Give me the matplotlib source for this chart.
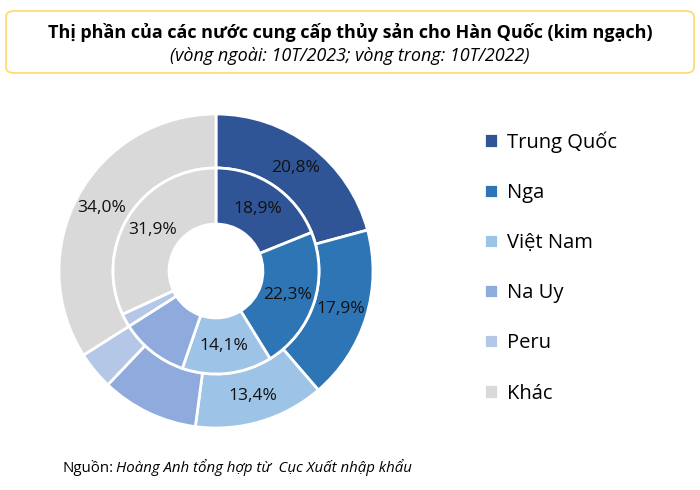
import matplotlib
matplotlib.use("Agg")
import matplotlib.pyplot as plt
import numpy as np
from matplotlib.patches import FancyBboxPatch

plt.rcParams['font.family'] = ['Open Sans', 'DejaVu Sans']

countries = ["Trung Quốc", "Nga", "Việt Nam", "Na Uy", "Peru", "Khác"]
share_2023 = [20.8, 17.9, 13.4, 10.0, 3.9, 34.0]   # outer ring
share_2022 = [18.9, 22.3, 14.1, 10.7, 2.1, 31.9]   # inner ring
show_label = [True, True, True, False, False, True]
colors = ["#2F5597", "#2E75B6", "#9DC3E6", "#8FAADC", "#B4C7E7", "#D9D9D9"]


def fmt(values):
    return [f"{v:.1f}%".replace(".", ",") if s else "" for v, s in zip(values, show_label)]


fig = plt.figure(figsize=(7, 4.9), dpi=100)

# title box
box = FancyBboxPatch((6 / 700, 1 - 73 / 490), 688 / 700, 62 / 490,
                     boxstyle="round,pad=0,rounding_size=0.012",
                     transform=fig.transFigure, facecolor="white",
                     edgecolor="#FFD966", linewidth=1.2)
fig.patches.append(box)
fig.text(0.5, 1 - 32 / 490, "Thị phần của các nước cung cấp thủy sản cho Hàn Quốc (kim ngạch)",
         ha="center", va="center", fontsize=13, fontweight="bold")
fig.text(0.5, 1 - 56 / 490, "(vòng ngoài: 10T/2023; vòng trong: 10T/2022)",
         ha="center", va="center", fontsize=13, style="italic")

ax = fig.add_axes([59 / 700, 62 / 490, 314 / 700, 314 / 490])
outer, _ = ax.pie(share_2023, radius=1.0, colors=colors, startangle=90,
                  counterclock=False,
                  wedgeprops=dict(width=0.344, edgecolor="white", linewidth=2))
inner, _ = ax.pie(share_2022, radius=0.656, colors=colors, startangle=90,
                  counterclock=False,
                  wedgeprops=dict(width=0.357, edgecolor="white", linewidth=2))


def put_labels(wedges, texts, r):
    for w, t in zip(wedges, texts):
        if not t:
            continue
        ang = np.deg2rad((w.theta1 + w.theta2) / 2)
        ax.text(r * np.cos(ang), r * np.sin(ang), t, ha="center", va="center",
                fontsize=12.5, color="#111111")


put_labels(outer, fmt(share_2023), 0.83)
put_labels(inner, fmt(share_2022), 0.48)
ax.set_xlim(-1, 1)
ax.set_ylim(-1, 1)
ax.set_aspect("equal")

# legend
fig.legend(outer, countries, loc="upper left",
           bbox_to_anchor=(480 / 700, 1 - 127 / 490),
           frameon=False, fontsize=14.5, labelspacing=1.5,
           handlelength=0.7, handleheight=0.7, handletextpad=0.45,
           borderaxespad=0, borderpad=0.2)

fig.text(63 / 700, 1 - 468 / 490, "Nguồn:", ha="left", va="center", fontsize=10.8)
fig.text(116 / 700, 1 - 468 / 490, "Hoàng Anh tổng hợp từ  Cục Xuất nhập khẩu",
         ha="left", va="center", fontsize=10.8, style="italic")

fig.savefig("out.png", dpi=100)
